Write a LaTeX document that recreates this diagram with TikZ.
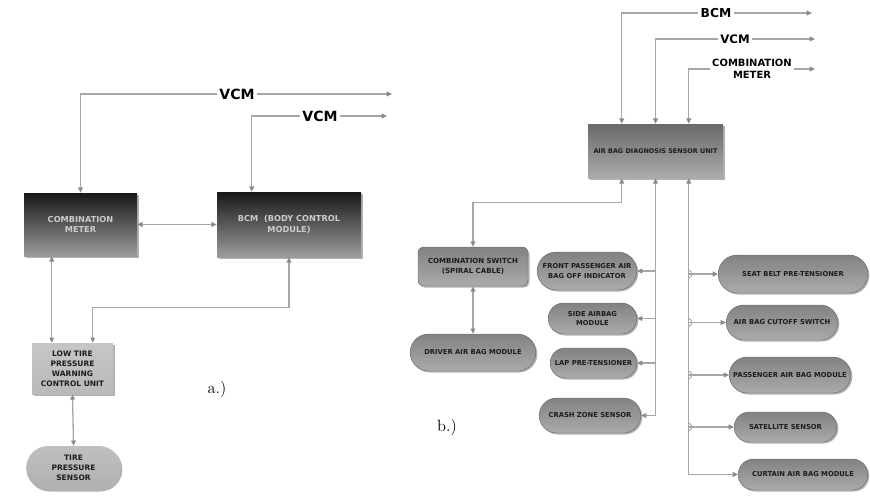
\documentclass[tikz,border=0pt]{standalone}
\usepackage{fontspec}
\setsansfont{DejaVu Sans}
\usetikzlibrary{arrows.meta,shapes.misc,shadows,calc}

\newdimen\unitpx \unitpx=0.03cm

\definecolor{wire}{HTML}{A6A6A6}
\definecolor{tipgray}{HTML}{8A8A8A}
\definecolor{darktop}{HTML}{181818}
\definecolor{darkbot}{HTML}{9C9C9C}
\definecolor{darktext}{HTML}{CCCCCC}
\definecolor{midtop}{HTML}{6A6A6A}
\definecolor{midbot}{HTML}{ABABAB}
\definecolor{pilltop}{HTML}{828282}
\definecolor{pillbot}{HTML}{ABABAB}
\definecolor{pillrim}{HTML}{6A6A6A}
\definecolor{inktext}{HTML}{1C1C1C}

\tikzset{
  sig/.style={draw=wire, line width=1.1pt, >={Triangle[length=4.5pt,width=4pt,color=tipgray]}},
  shade/.style={drop shadow={shadow xshift=1.3pt, shadow yshift=-1.3pt, fill=black, opacity=.3}},
  darkbox/.style={rectangle, shade, top color=darktop, bottom color=darkbot, text=darktext,
    align=center, font=\sffamily\bfseries\fontsize{7}{8.8}\selectfont},
  lightbox/.style={rectangle, shade, top color=gray!45, bottom color=gray!55, text=inktext,
    align=center, font=\sffamily\bfseries\fontsize{6.4}{8.6}\selectfont},
  midbox/.style={rectangle, shade, top color=midtop, bottom color=midbot, text=inktext,
    align=center, font=\sffamily\bfseries\fontsize{5.5}{6.5}\selectfont},
  pill/.style={rounded rectangle, shade, draw=pillrim, line width=.4pt, top color=pilltop,
    bottom color=pillbot, text=inktext, align=center, inner sep=1pt,
    font=\sffamily\bfseries\fontsize{5.8}{7.8}\selectfont},
  tag/.style={inner sep=2pt, font=\sffamily\bfseries\fontsize{#1}{#1}\selectfont},
  tag/.default=10,
  caption/.style={font=\fontsize{14}{16}\selectfont}
}

\begin{document}
\begin{tikzpicture}[x=0.03cm, y=-0.03cm]
	\useasboundingbox (0,0) rectangle (870,497);
	
	%--- a.) low tire pressure warning
	\node[darkbox, minimum width=113\unitpx, minimum height=63\unitpx] (meterA) at (80.5,224.5) {COMBINATION\\METER};
	\node[darkbox, minimum width=144\unitpx, minimum height=65\unitpx] (bcmA) at (289,224.5) {BCM~~(BODY CONTROL\\MODULE)};
	\node[lightbox, minimum width=81\unitpx, minimum height=51\unitpx] (warnA) at (72.5,368.5) {LOW TIRE\\PRESSURE\\WARNING\\CONTROL UNIT};
	\node[pill, draw=none, top color=gray!50, bottom color=gray!62, minimum width=97\unitpx, minimum height=44\unitpx,
	      font=\sffamily\bfseries\fontsize{6.4}{8.6}\selectfont] (tireA) at (73.5,468) {TIRE\\PRESSURE\\SENSOR};
	
	\node[tag=12] (vcmTop) at (237,94) {VCM};
	\node[tag=12] (vcmLow) at (320,116) {VCM};
	\coordinate (vcmTopEnd) at (392,94);
	\coordinate (vcmLowEnd) at (387,116);
	
	\draw[sig,->] (vcmTop.west) -| (meterA.north);
	\draw[sig,->] (vcmTop.east) -- (vcmTopEnd);
	\draw[sig,->] (vcmLow.west) -| ([xshift=35\unitpx]bcmA.north west);
	\draw[sig,->] (vcmLow.east) -- (vcmLowEnd);
	\draw[sig,<->] (meterA.east) -- (bcmA.west);
	\draw[sig,<->] ([xshift=28\unitpx]meterA.south west) -- ([xshift=20\unitpx]warnA.north west);
	\draw[sig,<->] (bcmA.south) -- ++(0,50) -| ([xshift=61\unitpx]warnA.north west);
	\draw[sig,<->] (warnA.south) -- (tireA.north);
	
	\node[caption] (capA) at (217,389) {a.)};
	
	%--- b.) air bag system
	\node[midbox, minimum width=135\unitpx, minimum height=54\unitpx] (diag) at (655.5,151) {AIR BAG DIAGNOSIS SENSOR UNIT};
	
	\node[tag=10.5] (bcmB) at (716,13) {BCM};
	\node[tag=10] (vcmB) at (735,39) {VCM};
	\node[tag=8.5, align=center, font=\sffamily\bfseries\fontsize{8.5}{10.5}\selectfont] (meterB) at (752,69) {COMBINATION\\METER};
	\coordinate (bcmEnd) at (812,13);
	\coordinate (vcmEnd) at (815,39);
	\coordinate (meterEnd) at (815,69);
	
	\draw[sig,->] (bcmB.west) -| ([xshift=34\unitpx]diag.north west);
	\draw[sig,->] (bcmB.east) -- (bcmEnd);
	\draw[sig,->] (vcmB.west) -| (diag.north);
	\draw[sig,->] (vcmB.east) -- (vcmEnd);
	\draw[sig,->] (meterB.west) -| ([xshift=101\unitpx]diag.north west);
	\draw[sig,->] (meterB.east) -- (meterEnd);
	
	%left side
	\node[pill, rounded rectangle=false, rectangle, rounded corners=5pt, minimum width=110\unitpx, minimum height=39\unitpx,
	      font=\sffamily\bfseries\fontsize{6}{8}\selectfont] (spiral) at (473,266.5) {COMBINATION SWITCH\\(SPIRAL CABLE)};
	\node[pill, minimum width=128\unitpx, minimum height=37\unitpx] (driver) at (473,352.5) {DRIVER AIR BAG MODULE};
	\draw[sig,<->] ([xshift=34\unitpx]diag.south west) -- ++(0,24) -| (spiral.north);
	\draw[sig,<->] (spiral.south) -- (driver.north);
	
	\node[pill, minimum width=102\unitpx, minimum height=38\unitpx] (frontPass) at (587,271) {FRONT PASSENGER AIR\\BAG OFF INDICATOR};
	\node[pill, minimum width=91\unitpx, minimum height=31\unitpx] (sideBag) at (592.5,318.5) {SIDE AIRBAG\\MODULE};
	\node[pill, minimum width=89\unitpx, minimum height=30\unitpx] (lapTens) at (593.5,363) {LAP PRE-TENSIONER};
	\node[pill, minimum width=104\unitpx, minimum height=35\unitpx] (crash) at (590,415.5) {CRASH ZONE SENSOR};
	
	\coordinate (busL) at (diag.south);
	\draw[sig,<->] (busL) |- (crash.east);
	\foreach \n in {frontPass,sideBag,lapTens}
		\draw[sig,->] (busL |- \n.east) -- (\n.east);
	
	%right side
	\node[pill, minimum width=152\unitpx, minimum height=38\unitpx] (seatBelt) at (793,274) {SEAT BELT PRE-TENSIONER};
	\node[pill, minimum width=114\unitpx, minimum height=35\unitpx] (cutoff) at (782,322.5) {AIR BAG CUTOFF SWITCH};
	\node[pill, minimum width=124\unitpx, minimum height=36\unitpx] (passBag) at (790,375) {PASSENGER AIR BAG MODULE};
	\node[pill, minimum width=105\unitpx, minimum height=30\unitpx] (satel) at (785.5,427) {SATELLITE SENSOR};
	\node[pill, minimum width=132\unitpx, minimum height=31\unitpx] (curtain) at (803,474.5) {CURTAIN AIR BAG MODULE};
	
	\coordinate (busR) at ([xshift=101\unitpx]diag.south west);
	\draw[sig,<->] (busR) |- (curtain.west);
	\foreach \n in {seatBelt,cutoff,passBag,satel} {
		\draw[sig,->] (busR |- \n.west) -- (\n.west);
		\draw[sig,line width=.8pt] ($(busR |- \n.west)+(0,-4)$) .. controls +(4,1) and +(4,-1) .. ($(busR |- \n.west)+(0,4)$);
	}
	
	\node[caption] (capB) at (447,427) {b.)};
\end{tikzpicture}
\end{document}
